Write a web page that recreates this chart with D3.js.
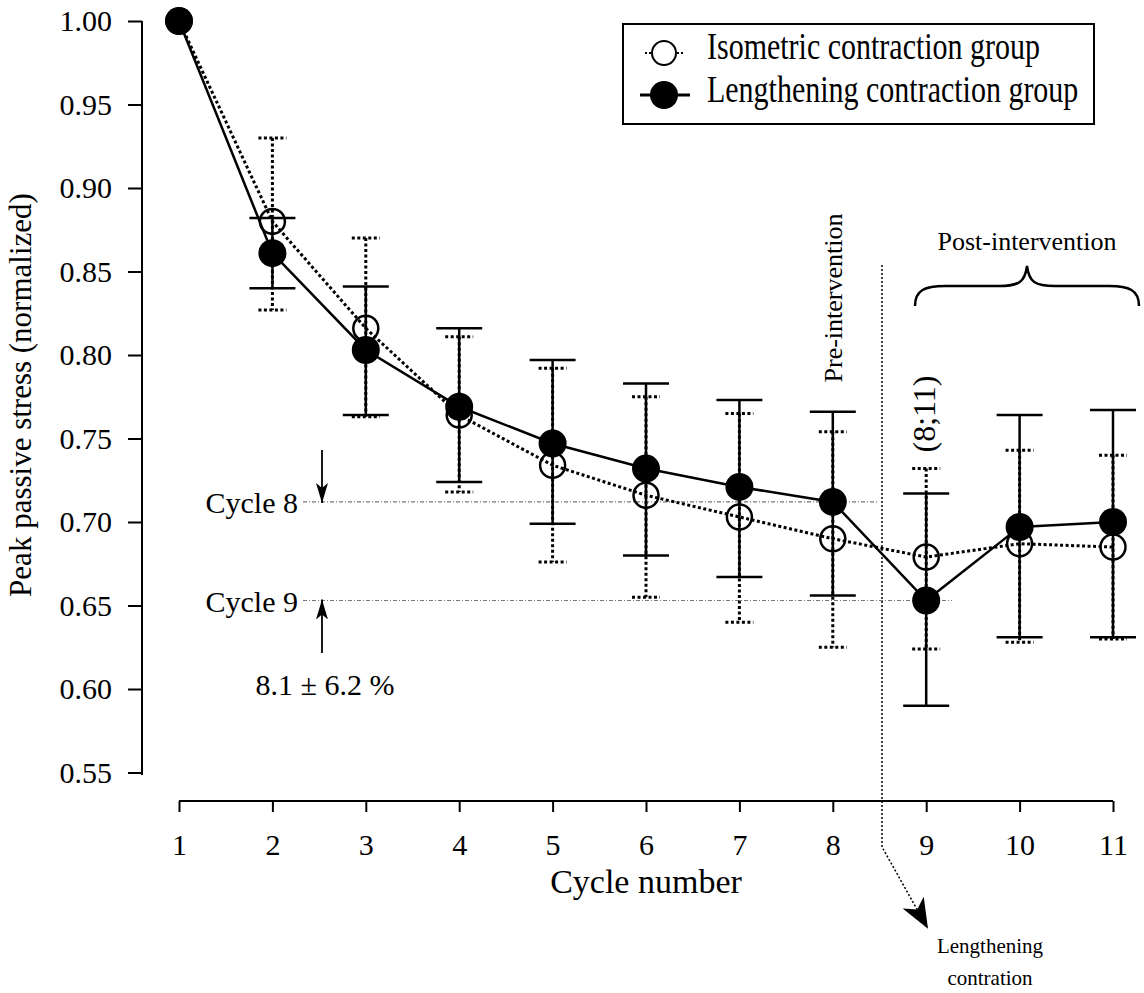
<!DOCTYPE html>
<html>
<head>
<meta charset="utf-8">
<script src="https://cdn.jsdelivr.net/npm/d3@7"></script>
<style>
  html, body { margin: 0; padding: 0; background: #fff; }
  svg { display: block; }
  text { font-family: "Liberation Serif", "Times New Roman", serif; fill: #000; }
</style>
</head>
<body>
<script>
// Cycle numbers along the x axis
const cycles = [1, 2, 3, 4, 5, 6, 7, 8, 9, 10, 11];

// Lengthening contraction group: mean and error-bar limits
const lengthMean  = [1.000, 0.861, 0.803, 0.769, 0.747, 0.732, 0.721, 0.712, 0.653, 0.697, 0.700];
const lengthUpper = [null, 0.882, 0.841, 0.816, 0.797, 0.783, 0.773, 0.766, 0.717, 0.764, 0.767];
const lengthLower = [null, 0.840, 0.764, 0.724, 0.699, 0.680, 0.667, 0.656, 0.590, 0.631, 0.631];

// Isometric contraction group: mean and error-bar limits
const isoMean  = [1.000, 0.880, 0.816, 0.764, 0.734, 0.716, 0.703, 0.690, 0.679, 0.687, 0.685];
const isoUpper = [null, 0.930, 0.870, 0.811, 0.792, 0.775, 0.765, 0.754, 0.732, 0.743, 0.740];
const isoLower = [null, 0.827, 0.763, 0.718, 0.676, 0.655, 0.640, 0.625, 0.624, 0.628, 0.630];

// Axis ticks
const yTicks = [0.55, 0.60, 0.65, 0.70, 0.75, 0.80, 0.85, 0.90, 0.95, 1.00];
const xTicks = cycles;

const seriesNames = ["Isometric contraction group", "Lengthening contraction group"];

const W = 1144, H = 993;
const svg = d3.select("body").append("svg").attr("width", W).attr("height", H);

const x = d3.scaleLinear().domain([1, 11]).range([179, 1113]);
const y = d3.scaleLinear().domain([0.55, 1.00]).range([772.5, 21]);

const FONT = 30;

// ---- Y axis ----
const yAxisG = svg.append("g").attr("transform", "translate(142,0)")
  .call(d3.axisLeft(y).tickValues(yTicks).tickFormat(d3.format(".2f")).tickSize(14).tickPadding(16));
yAxisG.select(".domain").attr("d", `M0,${y(1.0)}V775`).attr("stroke-width", 2);
yAxisG.selectAll(".tick line").attr("stroke-width", 2);
yAxisG.selectAll(".tick text").attr("font-size", FONT).attr("font-family", "Liberation Serif");

// ---- X axis ----
const xAxisG = svg.append("g").attr("transform", "translate(0,801)")
  .call(d3.axisBottom(x).tickValues(xTicks).tickFormat(d3.format("d")).tickSize(11).tickPadding(22));
xAxisG.select(".domain").attr("d", `M${x(1)},0H${x(11)}`).attr("stroke-width", 2);
xAxisG.selectAll(".tick line").attr("stroke-width", 2);
xAxisG.selectAll(".tick text").attr("font-size", FONT).attr("font-family", "Liberation Serif");

// Axis titles
svg.append("text").attr("x", 646).attr("y", 893).attr("text-anchor", "middle")
  .attr("font-size", 34).text("Cycle number");
svg.append("text").attr("transform", "translate(31,395) rotate(-90)").attr("text-anchor", "middle")
  .attr("font-size", 31).text("Peak passive stress (normalized)");

// ---- Reference lines for cycle 8 and cycle 9 ----
const ref8 = lengthMean[7], ref9 = lengthMean[8];
svg.append("line").attr("x1", 303).attr("x2", 879).attr("y1", y(ref8)).attr("y2", y(ref8))
  .attr("stroke", "#777").attr("stroke-width", 1.2).attr("stroke-dasharray", "4,2,1,2");
svg.append("line").attr("x1", 303).attr("x2", 952).attr("y1", y(ref9)).attr("y2", y(ref9))
  .attr("stroke", "#777").attr("stroke-width", 1.2).attr("stroke-dasharray", "4,2,1,2");

svg.append("text").attr("x", 298).attr("y", y(ref8) + 11).attr("text-anchor", "end")
  .attr("font-size", FONT).text("Cycle 8");
svg.append("text").attr("x", 298).attr("y", y(ref9) + 12).attr("text-anchor", "end")
  .attr("font-size", FONT).text("Cycle 9");

// Arrows pointing at the two reference levels
const defs = svg.append("defs");
defs.append("marker").attr("id", "arrowHead").attr("viewBox", "0 0 20 14")
  .attr("refX", 20).attr("refY", 7).attr("markerWidth", 20).attr("markerHeight", 14)
  .attr("markerUnits", "userSpaceOnUse").attr("orient", "auto")
  .append("path").attr("d", "M0,1 L20,7 L0,13 L5,7 Z").attr("fill", "#000");

svg.append("line").attr("x1", 322).attr("x2", 322).attr("y1", 450).attr("y2", y(ref8) + 1)
  .attr("stroke", "#000").attr("stroke-width", 1.8).attr("marker-end", "url(#arrowHead)");
svg.append("line").attr("x1", 322).attr("x2", 322).attr("y1", 653).attr("y2", y(ref9) - 1)
  .attr("stroke", "#000").attr("stroke-width", 1.8).attr("marker-end", "url(#arrowHead)");
svg.append("text").attr("x", 325).attr("y", 695).attr("text-anchor", "middle")
  .attr("font-size", FONT).text("8.1 ± 6.2 %");

// ---- Intervention divider ----
const divX = 882;
defs.append("marker").attr("id", "bigArrow").attr("viewBox", "0 0 30 24")
  .attr("refX", 28).attr("refY", 12).attr("markerWidth", 30).attr("markerHeight", 24)
  .attr("markerUnits", "userSpaceOnUse").attr("orient", "auto")
  .append("path").attr("d", "M0,0 L30,12 L0,24 L8,12 Z").attr("fill", "#000");
svg.append("path").attr("d", `M${divX},265 V847 L927,927`)
  .attr("fill", "none").attr("stroke", "#000").attr("stroke-width", 1.5)
  .attr("stroke-dasharray", "2,2").attr("marker-end", "url(#bigArrow)");

svg.append("text").attr("x", 990).attr("y", 953).attr("text-anchor", "middle")
  .attr("font-size", 21).text("Lengthening");
svg.append("text").attr("x", 990).attr("y", 985).attr("text-anchor", "middle")
  .attr("font-size", 21).text("contration");

svg.append("text").attr("transform", "translate(842,298) rotate(-90)").attr("text-anchor", "middle")
  .attr("font-size", 26).text("Pre-intervention");

// Brace over the post-intervention cycles
const bL = 915, bR = 1139, bMid = 1027, bBase = 306, bFlat = 286, bTip = 266;
svg.append("path")
  .attr("d", `M${bL},${bBase} C${bL},${bFlat + 4} ${bL + 10},${bFlat} ${bL + 30},${bFlat}
              L${bMid - 28},${bFlat} C${bMid - 8},${bFlat} ${bMid - 2},${bFlat - 4} ${bMid},${bTip}
              C${bMid + 2},${bFlat - 4} ${bMid + 8},${bFlat} ${bMid + 28},${bFlat}
              L${bR - 30},${bFlat} C${bR - 10},${bFlat} ${bR},${bFlat + 4} ${bR},${bBase}`)
  .attr("fill", "none").attr("stroke", "#000").attr("stroke-width", 2.5);
svg.append("text").attr("x", bMid).attr("y", 250).attr("text-anchor", "middle")
  .attr("font-size", 26).text("Post-intervention");

svg.append("text").attr("transform", `translate(935,414) rotate(-90)`).attr("text-anchor", "middle")
  .attr("font-size", 32).text("(8;11)");

// ---- Data ----
const iso = cycles.map((c, i) => ({ c, m: isoMean[i], hi: isoUpper[i], lo: isoLower[i] }));
const len = cycles.map((c, i) => ({ c, m: lengthMean[i], hi: lengthUpper[i], lo: lengthLower[i] }));

const line = d3.line().x(d => x(d.c)).y(d => y(d.m));

const DOT = "3,2.5";

// Error bars, isometric (dotted)
const isoErr = svg.append("g").attr("stroke", "#000").attr("stroke-width", 3).attr("stroke-dasharray", DOT).attr("fill", "none");
iso.filter(d => d.hi != null).forEach(d => {
  isoErr.append("line").attr("x1", x(d.c)).attr("x2", x(d.c)).attr("y1", y(d.hi)).attr("y2", y(d.lo));
  isoErr.append("line").attr("x1", x(d.c) - 14).attr("x2", x(d.c) + 14).attr("y1", y(d.hi)).attr("y2", y(d.hi));
  isoErr.append("line").attr("x1", x(d.c) - 14).attr("x2", x(d.c) + 14).attr("y1", y(d.lo)).attr("y2", y(d.lo));
});

// Error bars, lengthening (solid)
const lenErr = svg.append("g").attr("stroke", "#000").attr("stroke-width", 2.5).attr("fill", "none");
len.filter(d => d.hi != null).forEach(d => {
  lenErr.append("line").attr("x1", x(d.c)).attr("x2", x(d.c)).attr("y1", y(d.hi)).attr("y2", y(d.lo));
  lenErr.append("line").attr("x1", x(d.c) - 23).attr("x2", x(d.c) + 23).attr("y1", y(d.hi)).attr("y2", y(d.hi));
  lenErr.append("line").attr("x1", x(d.c) - 23).attr("x2", x(d.c) + 23).attr("y1", y(d.lo)).attr("y2", y(d.lo));
});

// Series lines
svg.append("path").datum(iso).attr("d", line).attr("fill", "none")
  .attr("stroke", "#000").attr("stroke-width", 3).attr("stroke-dasharray", DOT);
svg.append("path").datum(len).attr("d", line).attr("fill", "none")
  .attr("stroke", "#000").attr("stroke-width", 2.5);

// Markers
svg.append("g").selectAll("circle").data(iso).join("circle")
  .attr("cx", d => x(d.c)).attr("cy", d => y(d.m)).attr("r", 12.5)
  .attr("fill", "none").attr("stroke", "#000").attr("stroke-width", 2.5);
svg.append("g").selectAll("circle").data(len).join("circle")
  .attr("cx", d => x(d.c)).attr("cy", d => y(d.m)).attr("r", 14)
  .attr("fill", "#000");

// ---- Legend ----
const lg = svg.append("g");
lg.append("rect").attr("x", 623).attr("y", 24).attr("width", 471).attr("height", 100)
  .attr("fill", "#fff").attr("stroke", "#000").attr("stroke-width", 2);
lg.append("line").attr("x1", 645).attr("x2", 684).attr("y1", 53).attr("y2", 53)
  .attr("stroke", "#000").attr("stroke-width", 2).attr("stroke-dasharray", "2,2");
lg.append("circle").attr("cx", 664).attr("cy", 53).attr("r", 12)
  .attr("fill", "#fff").attr("stroke", "#000").attr("stroke-width", 2);
lg.append("line").attr("x1", 640).attr("x2", 690).attr("y1", 95).attr("y2", 95)
  .attr("stroke", "#000").attr("stroke-width", 3);
lg.append("circle").attr("cx", 664).attr("cy", 95).attr("r", 14).attr("fill", "#000");
lg.append("text").attr("x", 707).attr("y", 59).attr("font-size", FONT)
  .attr("transform", "translate(0,59) scale(1,1.25) translate(0,-59)").text(seriesNames[0]);
lg.append("text").attr("x", 707).attr("y", 102).attr("font-size", FONT)
  .attr("transform", "translate(0,102) scale(1,1.25) translate(0,-102)").text(seriesNames[1]);
</script>
</body>
</html>
